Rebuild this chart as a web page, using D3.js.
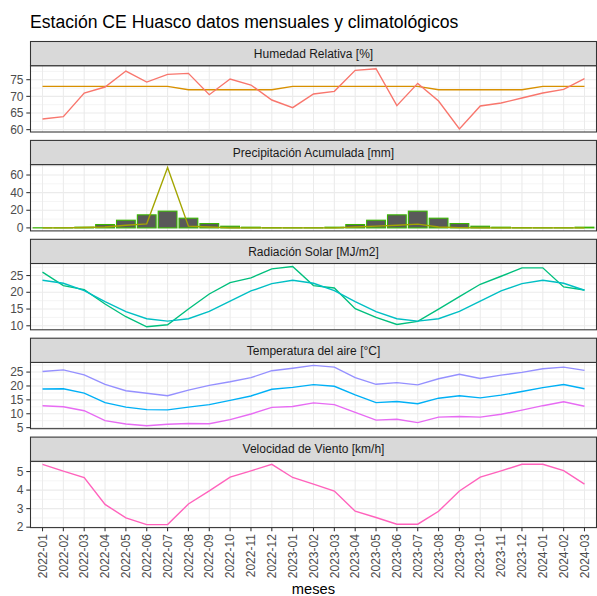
<!DOCTYPE html>
<html><head><meta charset="utf-8">
<script src="https://cdn.jsdelivr.net/npm/d3@7"></script>
<style>body{margin:0;background:#fff}svg{display:block;font-family:"Liberation Sans",Arial,sans-serif}</style>
</head><body><svg id="c" width="597" height="596"></svg>
<script>
const months = ["2022-01","2022-02","2022-03","2022-04","2022-05","2022-06","2022-07","2022-08","2022-09","2022-10","2022-11","2022-12",
"2023-01","2023-02","2023-03","2023-04","2023-05","2023-06","2023-07","2023-08","2023-09","2023-10","2023-11","2023-12",
"2024-01","2024-02","2024-03"];
const panelTitles = ["Humedad Relativa [%]","Precipitación Acumulada [mm]","Radiación Solar [MJ/m2]","Temperatura del aire [°C]","Velocidad de Viento [km/h]"];
const humedad = [63.2,63.9,71.0,72.8,77.6,74.3,76.6,76.9,70.5,75.2,73.4,68.9,66.6,70.7,71.5,77.8,78.3,67.2,73.9,68.6,60.2,67.1,68.0,69.5,71.0,72.1,75.3];
const humedadClim = [73,73,73,73,73,73,73,72,72,72,72,72,73,73,73,73,73,73,73,72,72,72,72,72,73,73,73];
const precip = [0,0,0.5,1,3,4.6,68.4,2,1,0,0,0,0,0,0,1,2,3,4.3,1,0.3,0,0,0,0,0,0];
const precipClim = [0.1,0.1,0.8,3.8,8.7,14.8,19.0,11.0,4.9,1.9,0.8,0.2,0.1,0.1,0.8,3.8,8.7,14.8,19.0,11.0,4.9,1.9,0.8,0.2,0.1,0.1,0.8];
const radiacion = [26.0,22.0,20.8,16.5,12.7,9.7,10.3,15.0,19.5,22.9,24.3,27.0,27.7,22.0,21.3,15.1,12.5,10.4,11.3,15.0,18.7,22.4,24.8,27.3,27.3,21.6,20.7];
const radiacionClim = [23.6,22.7,20.5,17.2,14.2,12.1,11.4,12.1,14.3,17.4,20.4,22.6,23.6,22.7,20.5,17.2,14.2,12.1,11.4,12.1,14.3,17.4,20.4,22.6,23.6,22.7,20.6];
const tempMax = [25.2,25.8,24.0,20.6,18.3,17.4,16.5,18.5,20.2,21.5,23.0,25.5,26.4,27.4,26.8,23.0,20.6,21.2,20.4,22.6,24.2,22.7,23.9,24.9,26.2,26.8,25.6];
const tempMed = [18.9,19.0,17.4,14.0,12.4,11.5,11.4,12.4,13.3,14.8,16.4,18.8,19.5,20.5,19.9,16.8,14.0,14.4,13.6,15.6,16.5,15.7,16.7,18.0,19.4,20.5,19.0];
const tempMin = [12.9,12.5,11.1,7.5,6.3,5.7,6.2,6.5,6.4,7.9,9.9,12.3,12.6,13.9,13.3,10.5,7.7,8.0,6.8,8.8,9.0,8.8,9.8,11.3,12.9,14.3,12.7];
const viento = [5.39,5.02,4.68,3.23,2.5,2.14,2.14,3.25,3.96,4.7,5.04,5.39,4.68,4.32,3.95,2.86,2.52,2.16,2.16,2.86,3.95,4.7,5.04,5.39,5.39,5.05,4.32];
const yTicks = [[60,65,70,75],[0,20,40,60],[10,15,20,25],[5,10,15,20,25],[2,3,4,5]];

const panels = [
  {bars:null, lines:[{v:humedadClim,c:"#D89000"},{v:humedad,c:"#F8766D"}]},
  {bars:{v:precipClim,fill:"#595959",stroke:"#39B600"}, lines:[{v:precip,c:"#A3A500"}]},
  {bars:null, lines:[{v:radiacion,c:"#00BF7D"},{v:radiacionClim,c:"#00BFC4"}]},
  {bars:null, lines:[{v:tempMax,c:"#9590FF"},{v:tempMed,c:"#00B0F6"},{v:tempMin,c:"#E76BF3"}]},
  {bars:null, lines:[{v:viento,c:"#FF62BC"}]}
];

const svg = d3.select("#c");
const L=30, R=597, top0=41.5, spacing=98.9, stripH=24.2, plotH=66.3;
const x = d3.scalePoint().domain(months).range([L,R]).padding(0.6);
const step = x.step();

svg.append("text").attr("x",30).attr("y",28).attr("font-size",17.6).attr("fill","#000")
  .text("Estación CE Huasco datos mensuales y climatológicos");

panels.forEach((p,i)=>{
  const sTop = top0 + i*spacing;
  const pTop = sTop + stripH, pBot = pTop + plotH;
  let vals = [];
  p.lines.forEach(l=>vals=vals.concat(l.v));
  if(p.bars){vals=vals.concat(p.bars.v); vals.push(0);}
  const [mn,mx] = d3.extent(vals);
  const pad = (mx-mn)*0.05;
  const y = d3.scaleLinear().domain([mn-pad,mx+pad]).range([pBot,pTop]);
  const g = svg.append("g");
  const ticks = yTicks[i];
  const d = ticks[1]-ticks[0];
  const minor = [];
  for(let t=ticks[0]-d/2; t<=ticks[ticks.length-1]+d; t+=d){ if(t>=y.domain()[0] && t<=y.domain()[1]) minor.push(t);}
  g.selectAll(".mn").data(minor).join("line").attr("x1",L).attr("x2",R)
    .attr("y1",t=>y(t)).attr("y2",t=>y(t)).attr("stroke","#EBEBEB").attr("stroke-width",0.55);
  g.selectAll(".mj").data(ticks).join("line").attr("x1",L).attr("x2",R)
    .attr("y1",t=>y(t)).attr("y2",t=>y(t)).attr("stroke","#EBEBEB").attr("stroke-width",1.07);
  g.selectAll(".vx").data(months).join("line").attr("x1",m=>x(m)).attr("x2",m=>x(m))
    .attr("y1",pTop).attr("y2",pBot).attr("stroke","#EBEBEB").attr("stroke-width",1.07);
  if(p.bars){
    g.selectAll(".bar").data(p.bars.v).join("rect")
      .attr("x",(v,j)=>x(months[j])-step*0.45).attr("width",step*0.9)
      .attr("y",v=>y(v)).attr("height",v=>Math.max(0,y(0)-y(v)))
      .attr("fill",p.bars.fill).attr("stroke",p.bars.stroke).attr("stroke-width",1.1);
  }
  const line = d3.line().x((v,j)=>x(months[j])).y(v=>y(v));
  p.lines.forEach(l=>{
    g.append("path").attr("d",line(l.v)).attr("fill","none").attr("stroke",l.c).attr("stroke-width",1.4);
  });
  g.append("rect").attr("x",L+0.5).attr("y",pTop).attr("width",R-L-1).attr("height",plotH)
    .attr("fill","none").attr("stroke","#333333").attr("stroke-width",1.07);
  g.append("rect").attr("x",L+0.5).attr("y",sTop).attr("width",R-L-1).attr("height",stripH)
    .attr("fill","#D9D9D9").attr("stroke","#333333").attr("stroke-width",1.07);
  g.append("text").attr("x",(L+R)/2).attr("y",sTop+stripH/2).attr("dy","0.35em")
    .attr("text-anchor","middle").attr("font-size",12).attr("fill","#1A1A1A").text(panelTitles[i]);
  g.selectAll(".yt").data(ticks).join("line").attr("x1",L-3.7).attr("x2",L)
    .attr("y1",t=>y(t)).attr("y2",t=>y(t)).attr("stroke","#333333").attr("stroke-width",1.07);
  g.selectAll(".yl").data(ticks).join("text").attr("x",L-6.5).attr("y",t=>y(t)).attr("dy","0.35em")
    .attr("text-anchor","end").attr("font-size",12).attr("fill","#4D4D4D").text(t=>t);
  if(i===panels.length-1){
    g.selectAll(".xt").data(months).join("line").attr("x1",m=>x(m)).attr("x2",m=>x(m))
      .attr("y1",pBot).attr("y2",pBot+3.7).attr("stroke","#333333").attr("stroke-width",1.07);
    g.selectAll(".xl").data(months).join("text")
      .attr("transform",m=>`translate(${x(m)},${pBot+6.5}) rotate(-90)`)
      .attr("text-anchor","end").attr("dy","0.35em").attr("font-size",12).attr("fill","#4D4D4D").text(m=>m);
  }
});
svg.append("text").attr("x",(L+R)/2).attr("y",594).attr("text-anchor","middle").attr("font-size",14.7)
  .attr("fill","#000").text("meses");
</script></body></html>
